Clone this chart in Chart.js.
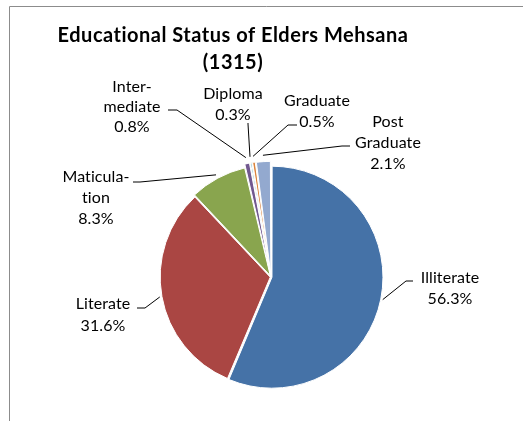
<!DOCTYPE html>
<html>
<head>
<meta charset="utf-8">
<script src="https://cdn.jsdelivr.net/npm/chart.js@4.4.0/dist/chart.umd.min.js"></script>
<style>
  html, body { margin: 0; padding: 0; background: #fff; }
</style>
</head>
<body>
<canvas id="eduChart" width="523" height="421"></canvas>
<script>
// data
var categories = ['Illiterate', 'Literate', 'Maticulation', 'Intermediate', 'Diploma', 'Graduate', 'Post Graduate'];
var shares = [56.3, 31.6, 8.3, 0.8, 0.3, 0.5, 2.1];
var labelLines = [['Illiterate'], ['Literate'], ['Maticula-', 'tion'], ['Inter-', 'mediate'], ['Diploma'], ['Graduate'], ['Post', 'Graduate']];
var titleLines = ['Educational Status of Elders Mehsana', '(1315)'];

var colors = ['#4572A7', '#AA4643', '#89A54E', '#71588F', '#4198AF', '#DB843D', '#93A9CF'];
var explode = [4, 3, 6, 12, 12, 12, 12];

// label boxes: text centre, first line y, line pitch, leader start + elbow
var labelLayout = [
  { x: 450, y: 278, pitch: 21, from: [413, 281], elbow: [406, 281] },
  { x: 103, y: 304, pitch: 22, from: [137, 308], elbow: [145, 308] },
  { x: 96,  y: 177, pitch: 21, from: [133, 182], elbow: [140, 182] },
  { x: 132, y: 87,  pitch: 20, from: [168, 110], elbow: [177, 110] },
  { x: 233, y: 94,  pitch: 21, from: [248, 123], elbow: [248, 124] },
  { x: 317, y: 101, pitch: 21, from: [297, 125], elbow: [288, 125] },
  { x: 388, y: 122, pitch: 21, from: [350, 146], elbow: [342, 146] }
];

var labelFont = '16px Lato';
var titleFont = 'bold 20px Lato';

var annotate = {
  id: 'annotate',
  afterDraw: function (chart) {
    var ctx = chart.ctx;
    var meta = chart.getDatasetMeta(0);
    ctx.save();

    // plot frame (only top and left edges are visible)
    ctx.strokeStyle = '#8c8c8c';
    ctx.lineWidth = 1;
    ctx.beginPath();
    ctx.moveTo(9.5, 421);
    ctx.lineTo(9.5, 6.5);
    ctx.lineTo(523, 6.5);
    ctx.stroke();

    // title (small letter spacing also stops Lato's "ti" ligature)
    ctx.fillStyle = '#000';
    ctx.textAlign = 'center';
    ctx.textBaseline = 'middle';
    ctx.font = titleFont;
    ctx.letterSpacing = '0.5px';
    ctx.fillText(titleLines[0], 233, 36);
    ctx.fillText(titleLines[1], 233, 63);

    // labels with leader lines
    ctx.font = labelFont;
    ctx.letterSpacing = '0.1px';
    ctx.strokeStyle = '#000';
    meta.data.forEach(function (arc, i) {
      var lay = labelLayout[i];
      var mid = (arc.startAngle + arc.endAngle) / 2;
      var r = arc.outerRadius + explode[i];
      var ex = arc.x + Math.cos(mid) * r;
      var ey = arc.y + Math.sin(mid) * r;
      ctx.beginPath();
      ctx.moveTo(lay.from[0], lay.from[1]);
      ctx.lineTo(lay.elbow[0], lay.elbow[1]);
      ctx.lineTo(ex, ey);
      ctx.stroke();

      var lines = labelLines[i].concat([shares[i].toFixed(1) + '%']);
      lines.forEach(function (t, k) {
        ctx.fillText(t, lay.x, lay.y + k * lay.pitch);
      });
    });
    ctx.restore();
  }
};

new Chart(document.getElementById('eduChart').getContext('2d'), {
  type: 'pie',
  data: {
    labels: categories,
    datasets: [{
      data: shares,
      backgroundColor: colors,
      borderColor: '#ffffff',
      borderWidth: 1,
      offset: explode
    }]
  },
  options: {
    responsive: false,
    animation: false,
    radius: 110,
    layout: { padding: { left: 139, right: 120, top: 148, bottom: 15 } },
    plugins: {
      legend: { display: false },
      title: { display: false },
      tooltip: { enabled: false }
    }
  },
  plugins: [annotate]
});
</script>
</body>
</html>
